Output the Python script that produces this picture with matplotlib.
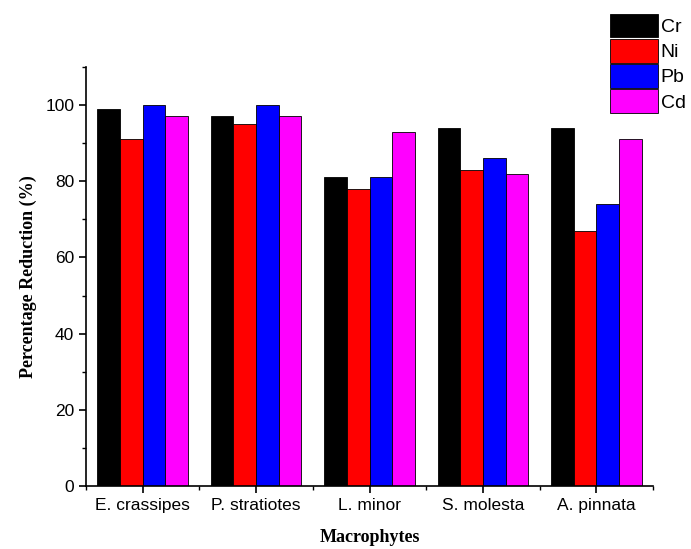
import numpy as np
import matplotlib.pyplot as plt
from matplotlib.ticker import MultipleLocator, FixedLocator

species = ["E. crassipes", "P. stratiotes", "L. minor", "S. molesta", "A. pinnata"]
metals = ["Cr", "Ni", "Pb", "Cd"]
cr = [99, 97, 81, 94, 94]
ni = [91, 95, 78, 83, 67]
pb = [100, 100, 81, 86, 74]
cd = [97, 97, 93, 82, 91]
colors = ["#000000", "#ff0000", "#0000ff", "#ff00ff"]

fig = plt.figure(figsize=(6.91, 5.49), dpi=100)
ax = fig.add_axes([0.1245, 0.1148, 0.8205, 0.7632])

x = np.arange(len(species))
width = 0.2
for i, (vals, name) in enumerate(zip([cr, ni, pb, cd], metals)):
    ax.bar(x + (i - 1.5) * width, vals, width, color=colors[i],
           edgecolor="black", linewidth=0.6, label=name)

ax.set_xlim(-0.5, 4.5)
ax.set_ylim(0, 110)
ax.spines["top"].set_visible(False)
ax.spines["right"].set_visible(False)
ax.spines["left"].set_linewidth(1.2)
ax.spines["bottom"].set_linewidth(1.2)

ax.set_xticks(x)
ax.set_xticklabels(species, fontfamily="Liberation Sans", fontsize=12.5)
ax.xaxis.set_minor_locator(FixedLocator(np.arange(-0.5, 5.0, 1.0)))
ax.yaxis.set_major_locator(MultipleLocator(20))
ax.yaxis.set_minor_locator(MultipleLocator(10))
for lbl in ax.get_yticklabels():
    lbl.set_fontfamily("Liberation Sans")
    lbl.set_fontsize(12.5)
ax.tick_params(which="major", direction="out", length=5, width=1.2)
ax.tick_params(which="minor", direction="out", length=3, width=1.0)

ax.set_xlabel("Macrophytes", fontfamily="Liberation Serif", fontweight="bold",
              fontsize=13, labelpad=12)
ax.set_ylabel("Percentage Reduction (%)", fontfamily="Liberation Serif",
              fontweight="bold", fontsize=13, labelpad=6)

fig.legend(loc="upper right", bbox_to_anchor=(1.012, 1.0), frameon=False,
           prop={"family": "Liberation Sans", "size": 14},
           handlelength=2.45, handleheight=1.5, handletextpad=0.15,
           labelspacing=0.08, borderaxespad=0.3)

fig.savefig("out.png", dpi=100)
